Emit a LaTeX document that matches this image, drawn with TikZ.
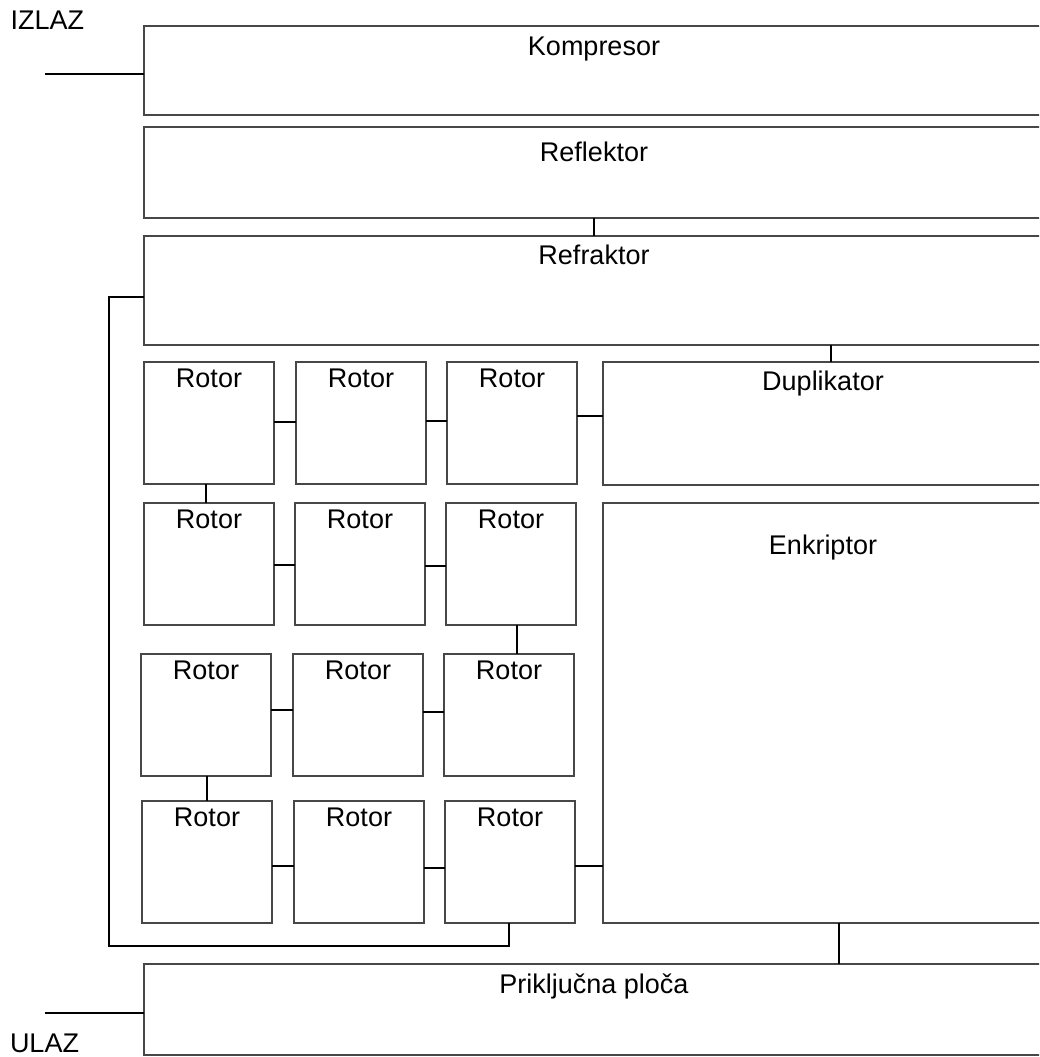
\documentclass[tikz,border=0pt]{standalone}
\usepackage{fontspec}
\setmainfont{Liberation Sans}
\usetikzlibrary{calc}
\begin{document}
\begin{tikzpicture}[x=1pt,y=-1pt,
  blk/.style={draw=black!72, line width=1.2pt, inner sep=0pt, outer sep=0pt, anchor=north west, rectangle},
  rotorbox/.style={blk, minimum width=130pt, minimum height=122pt},
  lbl/.style={anchor=base, inner sep=0pt, outer sep=0pt, font=\fontsize{27}{32}\selectfont},
  wire/.style={line width=2.2pt, draw=black}]
\useasboundingbox (0,0) rectangle (1039,1057);
\clip (0,0) rectangle (1039,1057);
% wide blocks (open to the right)
\node[blk, minimum width=900pt, minimum height=89pt] (komp) at (144,26) {};
\node[lbl] (kompt) at ($(komp.north)+(0,30)$) {Kompresor};
\node[blk, minimum width=900pt, minimum height=91pt] (refl) at (144,127) {};
\node[lbl] (reflt) at ($(refl.north)+(0,34)$) {Reflektor};
\node[blk, minimum width=900pt, minimum height=109pt] (refr) at (144,236) {};
\node[lbl] (refrt) at ($(refr.north)+(0,28)$) {Refraktor};
\node[blk, minimum width=440pt, minimum height=123pt] (dup) at (603,362) {};
\node[lbl] (dupt) at ($(dup.north)+(0,28)$) {Duplikator};
\node[blk, minimum width=440pt, minimum height=420pt] (enk) at (603,503) {};
\node[lbl] (enkt) at ($(enk.north)+(0,51)$) {Enkriptor};
\node[blk, minimum width=900pt, minimum height=91pt] (prik) at (144,964) {};
\node[lbl] (prikt) at ($(prik.north)+(0,29)$) {Priključna ploča};
% rotors
\foreach \n/\x/\y in {r11/144/362, r12/296/362, r13/447/362,
                      r21/144/503, r22/295/503, r23/446/503,
                      r31/141/654, r32/293/654, r33/444/654,
                      r41/142/801, r42/294/801, r43/445/801} {
  \node[rotorbox] (\n) at (\x,\y) {};
  \node[lbl] (\n-lbl) at ($(\n.north)+(0,25)$) {Rotor};
}
% in/out labels
\node[lbl, anchor=base west] (izlaz) at (10.5,30) {IZLAZ};
\node[lbl, anchor=base west] (ulaz) at (10,1052) {ULAZ};
\coordinate (izl) at (45,74);
\coordinate (ul) at (45,1013);
\draw[wire] (izl) -- (komp.west |- izl);
\draw[wire] (ul) -- (prik.west |- ul);
% vertical links between wide blocks
\draw[wire] (refl.south -| 594,0) -- (refr.north -| 594,0);
\draw[wire] (refr.south -| 831,0) -- (dup.north -| 831,0);
\draw[wire] (enk.south -| 839,0) -- (prik.north -| 839,0);
% rotor row links
\draw[wire] (r11.east |- 0,422) -- (r12.west |- 0,422);
\draw[wire] (r12.east |- 0,421) -- (r13.west |- 0,421);
\draw[wire] (r13.east |- 0,416) -- (dup.west |- 0,416);
\draw[wire] (r11.south -| 206,0) -- (r21.north -| 206,0);
\draw[wire] (r21.east |- 0,565) -- (r22.west |- 0,565);
\draw[wire] (r22.east |- 0,566) -- (r23.west |- 0,566);
\draw[wire] (r23.south -| 517,0) -- (r33.north -| 517,0);
\draw[wire] (r31.east |- 0,710) -- (r32.west |- 0,710);
\draw[wire] (r32.east |- 0,712) -- (r33.west |- 0,712);
\draw[wire] (r31.south -| 207,0) -- (r41.north -| 207,0);
\draw[wire] (r41.east |- 0,866) -- (r42.west |- 0,866);
\draw[wire] (r42.east |- 0,868) -- (r43.west |- 0,868);
\draw[wire] (r43.east |- 0,866) -- (enk.west |- 0,866);
% return loop
\draw[wire] (r43.south -| 509,0) -- (509,946) -- (109,946) -- (109,297) -- (refr.west |- 0,297);
\end{tikzpicture}
\end{document}
